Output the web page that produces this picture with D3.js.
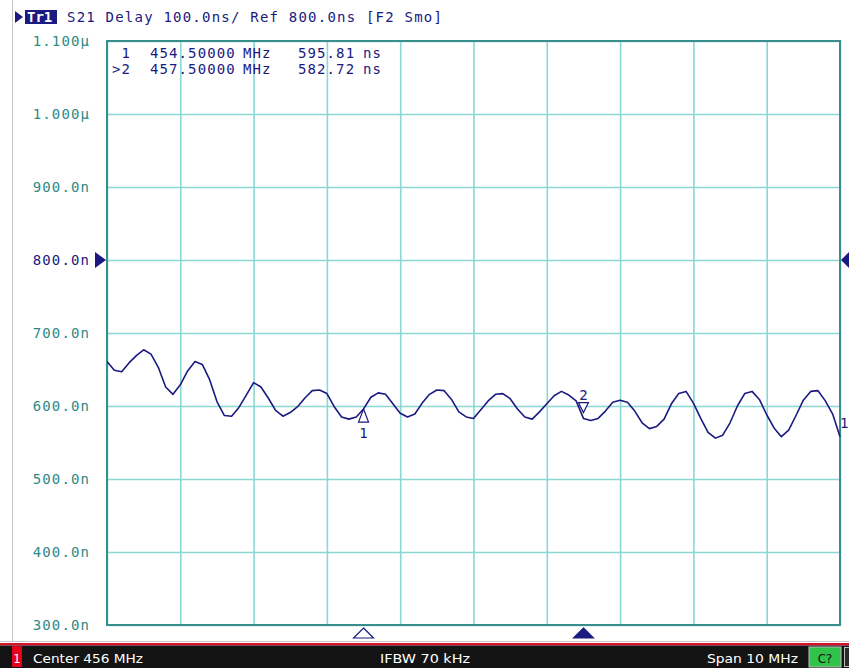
<!DOCTYPE html>
<html>
<head>
<meta charset="utf-8">
<script src="https://cdn.jsdelivr.net/npm/d3@7"></script>
<style>
  body { margin: 0; background: #fff; }
  svg { display: block; }
  .mono { font-family: "DejaVu Sans Mono", monospace; font-size: 14px; letter-spacing: 1.1px; }
  .bar { font-family: "Liberation Sans Narrow", "DejaVu Sans Condensed", sans-serif; font-size: 13px; }
</style>
</head>
<body>
<svg id="chart"></svg>
<script>
// sweep: 451 .. 461 MHz, 101 points
const freqStart = 451;
const freqStop = 461;

// S21 group delay, ns
const delayNs = [
  661, 649, 647, 659, 669, 677, 671, 653, 626, 616,
  629, 648, 661, 657, 636, 606, 587, 586, 598, 615,
  632, 626, 611, 594, 586, 591, 599, 611, 621, 622,
  617, 599, 585, 582, 585, 596, 612, 618, 616, 603,
  590, 585, 589, 604, 616, 622, 621, 609, 592, 585,
  583, 595, 607, 616, 617, 610, 596, 585, 582, 592,
  603, 614, 620, 615, 607, 583, 580, 583, 593, 605,
  608, 605, 593, 577, 569, 572, 582, 603, 617, 620,
  604, 583, 564, 556, 560, 577, 600, 617, 620, 609,
  588, 570, 558, 567, 587, 608, 620, 621, 607, 589,
  558
];

const xTicks = [451, 452, 453, 454, 455, 456, 457, 458, 459, 460, 461];
const yTicks = [300, 400, 500, 600, 700, 800, 900, 1000, 1100];
const yTickLabels = ["300.0n", "400.0n", "500.0n", "600.0n", "700.0n", "800.0n", "900.0n", "1.000µ", "1.100µ"];
const refLevel = 800;

const markerNames = ["1", "2"];
const markerFreqs = [454.5, 457.5];
const markerValues = [595.81, 582.72];
const activeMarker = "2";

const headerText = "S21 Delay 100.0ns/ Ref 800.0ns [F2 Smo]";
const statusTexts = ["Center 456 MHz", "IFBW 70 kHz", "Span 10 MHz"];

const WIDTH = 849;
const HEIGHT = 668;
const plot = { left: 107, top: 41, right: 840, bottom: 625 };

const NAVY = "#1a1a80";
const TEAL = "#2e8a84";
const GRID = "#8ad8d4";
const FRAME = "#3a8f8c";

const svg = d3.select("#chart").attr("width", WIDTH).attr("height", HEIGHT);

const x = d3.scaleLinear().domain([freqStart, freqStop]).range([plot.left, plot.right]);
const y = d3.scaleLinear().domain([300, 1100]).range([plot.bottom, plot.top]);

const points = delayNs.map((v, i) => ({
  f: freqStart + (i * (freqStop - freqStart)) / (delayNs.length - 1),
  v,
}));

// left gray rule
svg.append("line")
  .attr("x1", 12.5).attr("x2", 12.5).attr("y1", 0).attr("y2", 641)
  .attr("stroke", "#c4c4c4");

// grid
svg.append("g")
  .attr("transform", `translate(0,${plot.bottom})`)
  .call(d3.axisBottom(x).tickValues(xTicks).tickSize(-(plot.bottom - plot.top)).tickFormat(""))
  .call((g) => g.select(".domain").remove())
  .selectAll("line").attr("stroke", GRID).attr("stroke-width", 1.6);

svg.append("g")
  .attr("transform", `translate(${plot.left},0)`)
  .call(d3.axisLeft(y).tickValues(yTicks).tickSize(-(plot.right - plot.left)).tickFormat(""))
  .call((g) => g.select(".domain").remove())
  .selectAll("line").attr("stroke", GRID).attr("stroke-width", 1.6);

// y labels
const yLab = svg.append("g")
  .attr("transform", `translate(${plot.left},0)`)
  .call(d3.axisLeft(y).tickValues(yTicks).tickSize(0).tickPadding(17)
    .tickFormat((d, i) => yTickLabels[i]));
yLab.select(".domain").remove();
yLab.selectAll("text")
  .attr("class", "mono")
  .attr("font-family", null).attr("font-size", null)
  .attr("fill", (d) => (d === refLevel ? NAVY : TEAL));

// frame
svg.append("rect")
  .attr("x", plot.left).attr("y", plot.top)
  .attr("width", plot.right - plot.left).attr("height", plot.bottom - plot.top)
  .attr("fill", "none").attr("stroke", FRAME).attr("stroke-width", 2);

// reference level arrows
const ry = y(refLevel);
svg.append("path")
  .attr("d", `M95,${ry - 8}L106,${ry}L95,${ry + 8}Z`).attr("fill", NAVY);
svg.append("path")
  .attr("d", `M849,${ry - 8}L841,${ry}L849,${ry + 8}Z`).attr("fill", NAVY);

// trace
svg.append("clipPath").attr("id", "clip")
  .append("rect").attr("x", plot.left).attr("y", plot.top)
  .attr("width", plot.right - plot.left + 1).attr("height", plot.bottom - plot.top);

svg.append("path")
  .datum(points)
  .attr("clip-path", "url(#clip)")
  .attr("fill", "none")
  .attr("stroke", NAVY)
  .attr("stroke-width", 1.6)
  .attr("stroke-linejoin", "round")
  .attr("d", d3.line().x((d) => x(d.f)).y((d) => y(d.v)));

// trace number at right end
svg.append("text")
  .attr("class", "mono")
  .style("letter-spacing", "0px")
  .attr("x", plot.right)
  .attr("y", y(delayNs[delayNs.length - 1]) - 9)
  .attr("fill", NAVY)
  .text("1");

// markers on the trace
markerNames.forEach((name, i) => {
  const mx = x(markerFreqs[i]);
  const my = y(markerValues[i]);
  const g = svg.append("g").attr("fill", "none").attr("stroke", NAVY).attr("stroke-width", 1.2);
  if (name === activeMarker) {
    const ty = my - 6;
    g.append("path").attr("d", `M${mx - 5},${ty - 10}L${mx + 5},${ty - 10}L${mx},${ty}Z`).attr("fill", "#fff");
    svg.append("text").attr("class", "mono").style("letter-spacing", "0px")
      .attr("x", mx).attr("y", ty - 13)
      .attr("text-anchor", "middle").attr("fill", NAVY).text(name);
  } else {
    g.append("path").attr("d", `M${mx},${my}L${mx + 5},${my + 13}L${mx - 5},${my + 13}Z`).attr("fill", "#fff");
    svg.append("text").attr("class", "mono").style("letter-spacing", "0px")
      .attr("x", mx).attr("y", my + 29)
      .attr("text-anchor", "middle").attr("fill", NAVY).text(name);
  }
  // stimulus triangles under the grid
  svg.append("path")
    .attr("d", `M${mx},${plot.bottom + 3}L${mx + 10},${plot.bottom + 13}L${mx - 10},${plot.bottom + 13}Z`)
    .attr("fill", name === activeMarker ? NAVY : "#fff")
    .attr("stroke", NAVY).attr("stroke-width", 1.2);
});

// marker table
const tableCols = [112, 150, 243, 298, 363];
markerNames.forEach((name, i) => {
  const fields = [
    (name === activeMarker ? ">" : " ") + name,
    markerFreqs[i].toFixed(5),
    "MHz",
    markerValues[i].toFixed(2),
    "ns",
  ];
  fields.forEach((t, j) => {
    svg.append("text")
      .attr("class", "mono")
      .style("white-space", "pre")
      .attr("x", tableCols[j]).attr("y", 58 + i * 16)
      .attr("fill", NAVY)
      .text(t);
  });
});

// header
svg.append("path").attr("d", "M15,11L23,17L15,23Z").attr("fill", NAVY);
svg.append("rect").attr("x", 25).attr("y", 10).attr("width", 32).attr("height", 14).attr("fill", NAVY);
svg.append("text").attr("class", "mono").attr("x", 27).attr("y", 22)
  .attr("fill", "#fff").attr("font-weight", "bold").style("letter-spacing", "0px").text("Tr1");
svg.append("text").attr("class", "mono").attr("x", 67).attr("y", 22)
  .attr("fill", NAVY)
  .attr("textLength", 376).attr("lengthAdjust", "spacing")
  .text(headerText);

// status bar
svg.append("rect").attr("x", 0).attr("y", 641).attr("width", WIDTH).attr("height", 1).attr("fill", "#c8c8c8");
svg.append("rect").attr("x", 0).attr("y", 643).attr("width", WIDTH).attr("height", 2.5).attr("fill", "#d8102a");
svg.append("rect").attr("x", 0).attr("y", 645.5).attr("width", WIDTH).attr("height", HEIGHT - 645.5).attr("fill", "#141414");
svg.append("rect").attr("x", 12).attr("y", 646).attr("width", 10).attr("height", 21).attr("fill", "#e4001b");
svg.append("text").attr("class", "bar").attr("x", 17).attr("y", 663)
  .attr("text-anchor", "middle").attr("fill", "#fff").text("1");

const statusX = [33, 380, 707];
const statusW = [110, 90, 91];
statusTexts.forEach((t, i) => {
  svg.append("text").attr("class", "bar")
    .attr("x", statusX[i]).attr("y", 663)
    .attr("fill", "#fff")
    .attr("textLength", statusW[i]).attr("lengthAdjust", "spacingAndGlyphs")
    .text(t);
});

svg.append("rect").attr("x", 809).attr("y", 647).attr("width", 32).attr("height", 20)
  .attr("fill", "#30c24a").attr("stroke", "#bdbdbd").attr("stroke-width", 1);
svg.append("text").attr("class", "bar").attr("x", 825).attr("y", 663)
  .attr("text-anchor", "middle").attr("fill", "#101010").text("C?");
svg.append("rect").attr("x", 844.5).attr("y", 647.5).attr("width", 8).attr("height", 19)
  .attr("fill", "#2a2a2a").attr("stroke", "#bdbdbd");
</script>
</body>
</html>
